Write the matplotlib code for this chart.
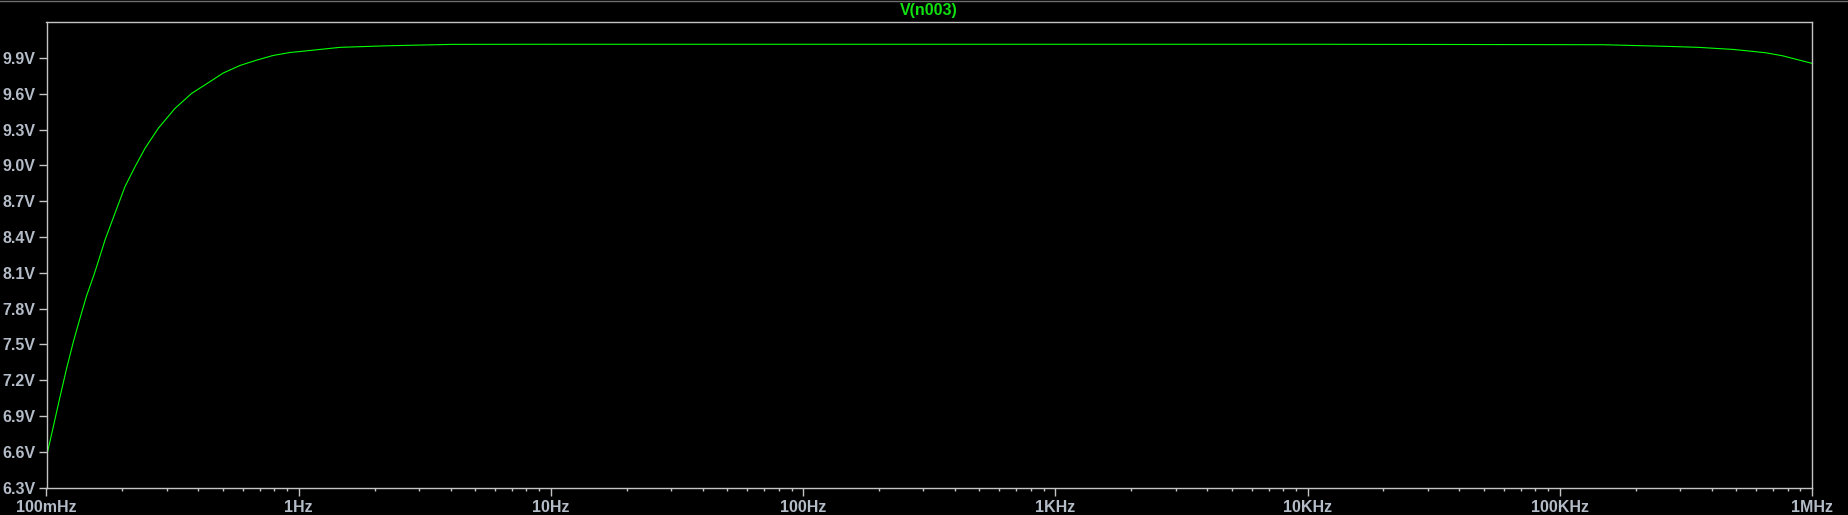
import matplotlib.pyplot as plt
from matplotlib.lines import Line2D

freq = [0.1, 0.1064, 0.1131, 0.1202, 0.1277, 0.1358, 0.1443, 0.1533, 0.158,
        0.1706, 0.1868, 0.2047, 0.2243, 0.2457, 0.2773, 0.3231, 0.3762, 0.4377,
        0.5022, 0.5848, 0.6809, 0.7922, 0.923, 1.011, 1.457, 2.23, 4.04, 10.0,
        100.0, 1e3, 1e4, 1.49e5, 2.7e5, 3.55e5, 4.17e5, 4.84e5, 5.65e5, 6.58e5,
        7.66e5, 8.91e5, 1e6]
volts = [6.56, 6.81, 7.06, 7.30, 7.52, 7.72, 7.91, 8.067, 8.151,
         8.375, 8.599, 8.822, 8.989, 9.143, 9.311, 9.478, 9.604, 9.693,
         9.775, 9.838, 9.883, 9.922, 9.947, 9.955, 9.99, 10.003, 10.015, 10.016,
         10.016, 10.016, 10.016, 10.012, 9.998, 9.99, 9.981, 9.973, 9.959, 9.944,
         9.919, 9.883, 9.856]

x_ticks = [0.1, 1, 10, 100, 1e3, 1e4, 1e5, 1e6]
x_labels = ['100mHz', '1Hz', '10Hz', '100Hz', '1KHz', '10KHz', '100KHz', '1MHz']
y_ticks = [6.3, 6.6, 6.9, 7.2, 7.5, 7.8, 8.1, 8.4, 8.7, 9.0, 9.3, 9.6, 9.9]
y_labels = ['%.1fV' % v for v in y_ticks]

plt.rcParams['font.family'] = ['Liberation Sans', 'DejaVu Sans']

fig = plt.figure(figsize=(18.48, 5.15), dpi=100, facecolor='black')
ax = fig.add_axes([46.5 / 1848, 1 - 487.6 / 515, (1812 - 46.5) / 1848, (487.6 - 22.3) / 515])
ax.set_facecolor('black')

ax.plot(freq, volts, color='#00ff00', linewidth=0.8)

ax.set_xscale('log')
ax.set_xlim(0.1, 1e6)
ax.set_ylim(6.3, 10.2)

grey = '#c4c4c4'
label_col = '#b4bcc8'
for s in ax.spines.values():
    s.set_color(grey)
    s.set_linewidth(1.0)

ax.set_xticks(x_ticks)
ax.set_xticklabels(x_labels)
ax.set_yticks(y_ticks)
ax.set_yticklabels(y_labels)
ax.tick_params(axis='both', which='major', direction='out', length=5.8, width=1.0,
               color=grey, labelcolor=label_col, labelsize=11.5)
ax.tick_params(axis='y', pad=2.2)
ax.tick_params(axis='x', pad=3.0)
ax.tick_params(axis='x', which='minor', direction='out', length=2.2, width=1.0, color=grey)
ax.tick_params(axis='y', which='minor', left=False)
for lab in ax.get_xticklabels() + ax.get_yticklabels():
    lab.set_fontweight('bold')

fig.text((46.5 + 1812) / 2 / 1848, 1 - 10.5 / 515, 'V(n003)', color='#10e010',
         fontsize=11.5, fontweight='bold', ha='center', va='center')

# bord gris en haut de la fenetre
fig.add_artist(Line2D([0, 1], [1 - 0.5 / 515, 1 - 0.5 / 515], color='#6e6e6e',
                      linewidth=1.0, transform=fig.transFigure))

fig.savefig('out.png', dpi=100, facecolor='black')
